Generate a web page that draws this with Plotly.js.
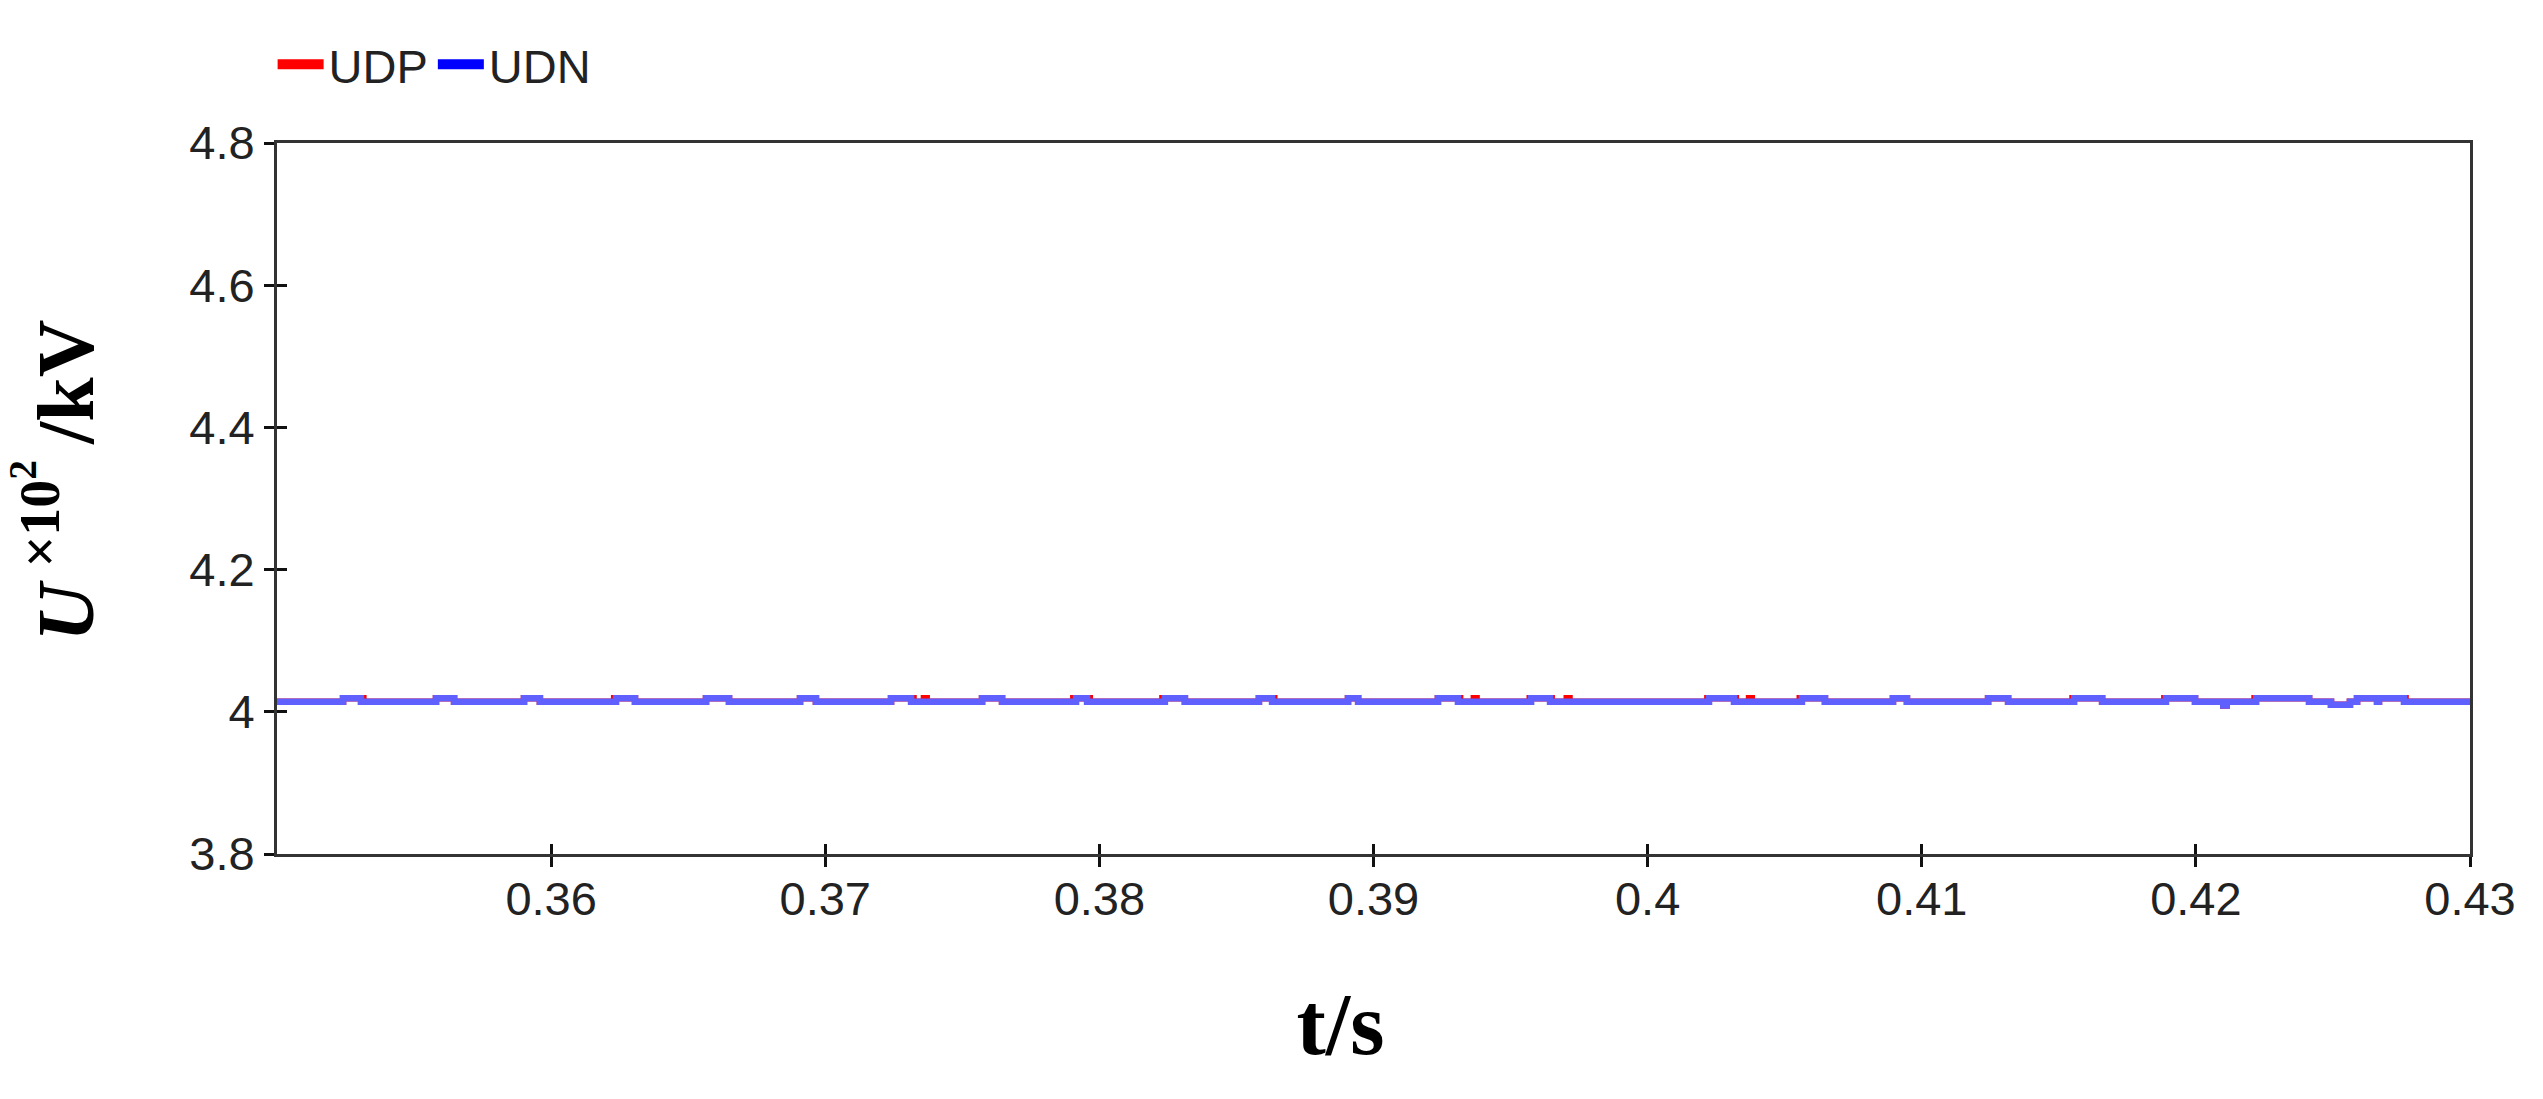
<!DOCTYPE html>
<html>
<head>
<meta charset="utf-8">
<script src="https://cdn.plot.ly/plotly-3.0.1.min.js"></script>
<style>html,body{margin:0;padding:0;background:#fff;}#chart{width:2543px;height:1099px;}</style>
</head>
<body>
<div id="chart"></div>
<script>
// Step-change points (time in s) and the voltage level (x10^2 kV) held after each point
var UDN_t = [0.35, 0.35241, 0.35306, 0.35580, 0.35646, 0.35901, 0.35959, 0.36237, 0.36306,
  0.36565, 0.36649, 0.36908, 0.36966, 0.37240, 0.37313, 0.37572, 0.37645, 0.37915, 0.37955,
  0.38239, 0.38312, 0.38582, 0.38630, 0.38907, 0.38944, 0.39235, 0.39308, 0.39575, 0.39644,
  0.40224, 0.40315, 0.40563, 0.40647, 0.40895, 0.40946, 0.41242, 0.41315, 0.41556, 0.41658,
  0.41891, 0.41997, 0.42100, 0.42112, 0.42220, 0.42413, 0.42493, 0.42562, 0.42588, 0.42661,
  0.42668, 0.42759, 0.43];
var UDN_v = [4.014, 4.019, 4.014, 4.019, 4.014, 4.019, 4.014, 4.019, 4.014,
  4.019, 4.014, 4.019, 4.014, 4.019, 4.014, 4.019, 4.014, 4.019, 4.014,
  4.019, 4.014, 4.019, 4.014, 4.019, 4.014, 4.019, 4.014, 4.019, 4.014,
  4.019, 4.014, 4.019, 4.014, 4.019, 4.014, 4.019, 4.014, 4.019, 4.014,
  4.019, 4.014, 4.009, 4.014, 4.019, 4.014, 4.010, 4.014, 4.019, 4.014,
  4.019, 4.014, 4.014];

var UDP_t = [0.35, 0.35241, 0.35315, 0.35580, 0.35646, 0.35901, 0.35959, 0.36230, 0.36306,
  0.36565, 0.36649, 0.36908, 0.36966, 0.37240, 0.37322, 0.37360, 0.37370, 0.37572, 0.37645,
  0.37905, 0.37965, 0.38230, 0.38312, 0.38582, 0.38638, 0.38907, 0.38944, 0.39235, 0.39316,
  0.39366, 0.39376, 0.39570, 0.39650, 0.39705, 0.39715, 0.40218, 0.40322, 0.40370, 0.40380,
  0.40555, 0.40647, 0.40895, 0.40946, 0.41242, 0.41315, 0.41550, 0.41658, 0.41885, 0.41997,
  0.42100, 0.42112, 0.42214, 0.42413, 0.42493, 0.42562, 0.42588, 0.42661, 0.42668, 0.42765, 0.43];
var UDP_v = [4.014, 4.019, 4.014, 4.019, 4.014, 4.019, 4.014, 4.019, 4.014,
  4.019, 4.014, 4.019, 4.014, 4.019, 4.014, 4.019, 4.014, 4.019, 4.014,
  4.019, 4.014, 4.019, 4.014, 4.019, 4.014, 4.019, 4.014, 4.019, 4.014,
  4.019, 4.014, 4.019, 4.014, 4.019, 4.014, 4.019, 4.014, 4.019, 4.014,
  4.019, 4.014, 4.019, 4.014, 4.019, 4.014, 4.019, 4.014, 4.019, 4.014,
  4.009, 4.014, 4.019, 4.014, 4.010, 4.014, 4.019, 4.014, 4.019, 4.014, 4.014];

var xTickVals = [0.36, 0.37, 0.38, 0.39, 0.40, 0.41, 0.42, 0.43];
var xTickText = ['0.36', '0.37', '0.38', '0.39', '0.4', '0.41', '0.42', '0.43'];
var yTickVals = [3.8, 4.0, 4.2, 4.4, 4.6, 4.8];
var yTickText = ['3.8', '4', '4.2', '4.4', '4.6', '4.8'];

var tickFont = {family: '"Liberation Sans", Arial, sans-serif', size: 47, color: '#222'};
var serif = '"Liberation Serif", "Times New Roman", serif';

var traces = [
  {x: UDP_t, y: UDP_v, type: 'scatter', mode: 'lines', line: {shape: 'hv', color: '#ff0000', width: 6.5}, showlegend: false, name: 'UDP', hoverinfo: 'skip'},
  {x: UDN_t, y: UDN_v, type: 'scatter', mode: 'lines', line: {shape: 'hv', color: '#6060ff', width: 6.5}, showlegend: false, name: 'UDN', hoverinfo: 'skip'},
  {x: [null], y: [null], type: 'scatter', mode: 'lines', line: {color: '#ff0000', width: 14}, name: 'UDP'},
  {x: [null], y: [null], type: 'scatter', mode: 'lines', line: {color: '#0000ff', width: 14}, name: 'UDN'},
  {x: [null], y: [null], xaxis: 'x2', yaxis: 'y2', showlegend: false, hoverinfo: 'skip'}
];

var layout = {
  width: 2543, height: 1099,
  paper_bgcolor: '#fff', plot_bgcolor: '#fff',
  margin: {l: 277, r: 73, t: 143, b: 245, pad: 0},
  showlegend: true,
  legend: {orientation: 'h', x: -0.002, xanchor: 'left', y: 1.11, yanchor: 'middle',
    font: tickFont, itemwidth: 46, tracegroupgap: 0, bgcolor: 'rgba(0,0,0,0)'},
  xaxis: {range: [0.35, 0.43], showgrid: false, zeroline: false,
    tickvals: xTickVals, ticktext: xTickText, tickfont: tickFont,
    ticks: 'outside', ticklen: 10, tickwidth: 3, tickcolor: '#111', ticklabelstandoff: -8,
    showline: true, linecolor: '#333', linewidth: 3, mirror: true,
    title: {text: '<b>t/s\u00a0\u00a0\u00a0</b>', font: {family: serif, size: 88, color: '#000'}, standoff: 68}},
  yaxis: {range: [3.8, 4.8], showgrid: false, zeroline: false,
    tickvals: yTickVals, ticktext: yTickText, tickfont: tickFont,
    ticks: 'outside', ticklen: 10, tickwidth: 3, tickcolor: '#111',
    showline: true, linecolor: '#333', linewidth: 3, mirror: true,
    title: {text: '<b>\u00a0\u2009<i>U</i>\u2009<sup>×10<sup>2</sup></sup>\u2009/kV</b>', font: {family: serif, size: 80, color: '#000'}, standoff: 70}},
  xaxis2: {overlaying: 'x', range: [0.35, 0.43], tickvals: xTickVals, showticklabels: false,
    ticks: 'inside', ticklen: 10, tickwidth: 3, tickcolor: '#111', showgrid: false, zeroline: false, showline: false},
  yaxis2: {overlaying: 'y', range: [3.8, 4.8], tickvals: yTickVals, showticklabels: false,
    ticks: 'inside', ticklen: 10, tickwidth: 3, tickcolor: '#111', showgrid: false, zeroline: false, showline: false}
};

Plotly.newPlot('chart', traces, layout, {displayModeBar: false, staticPlot: true});
</script>
</body>
</html>
